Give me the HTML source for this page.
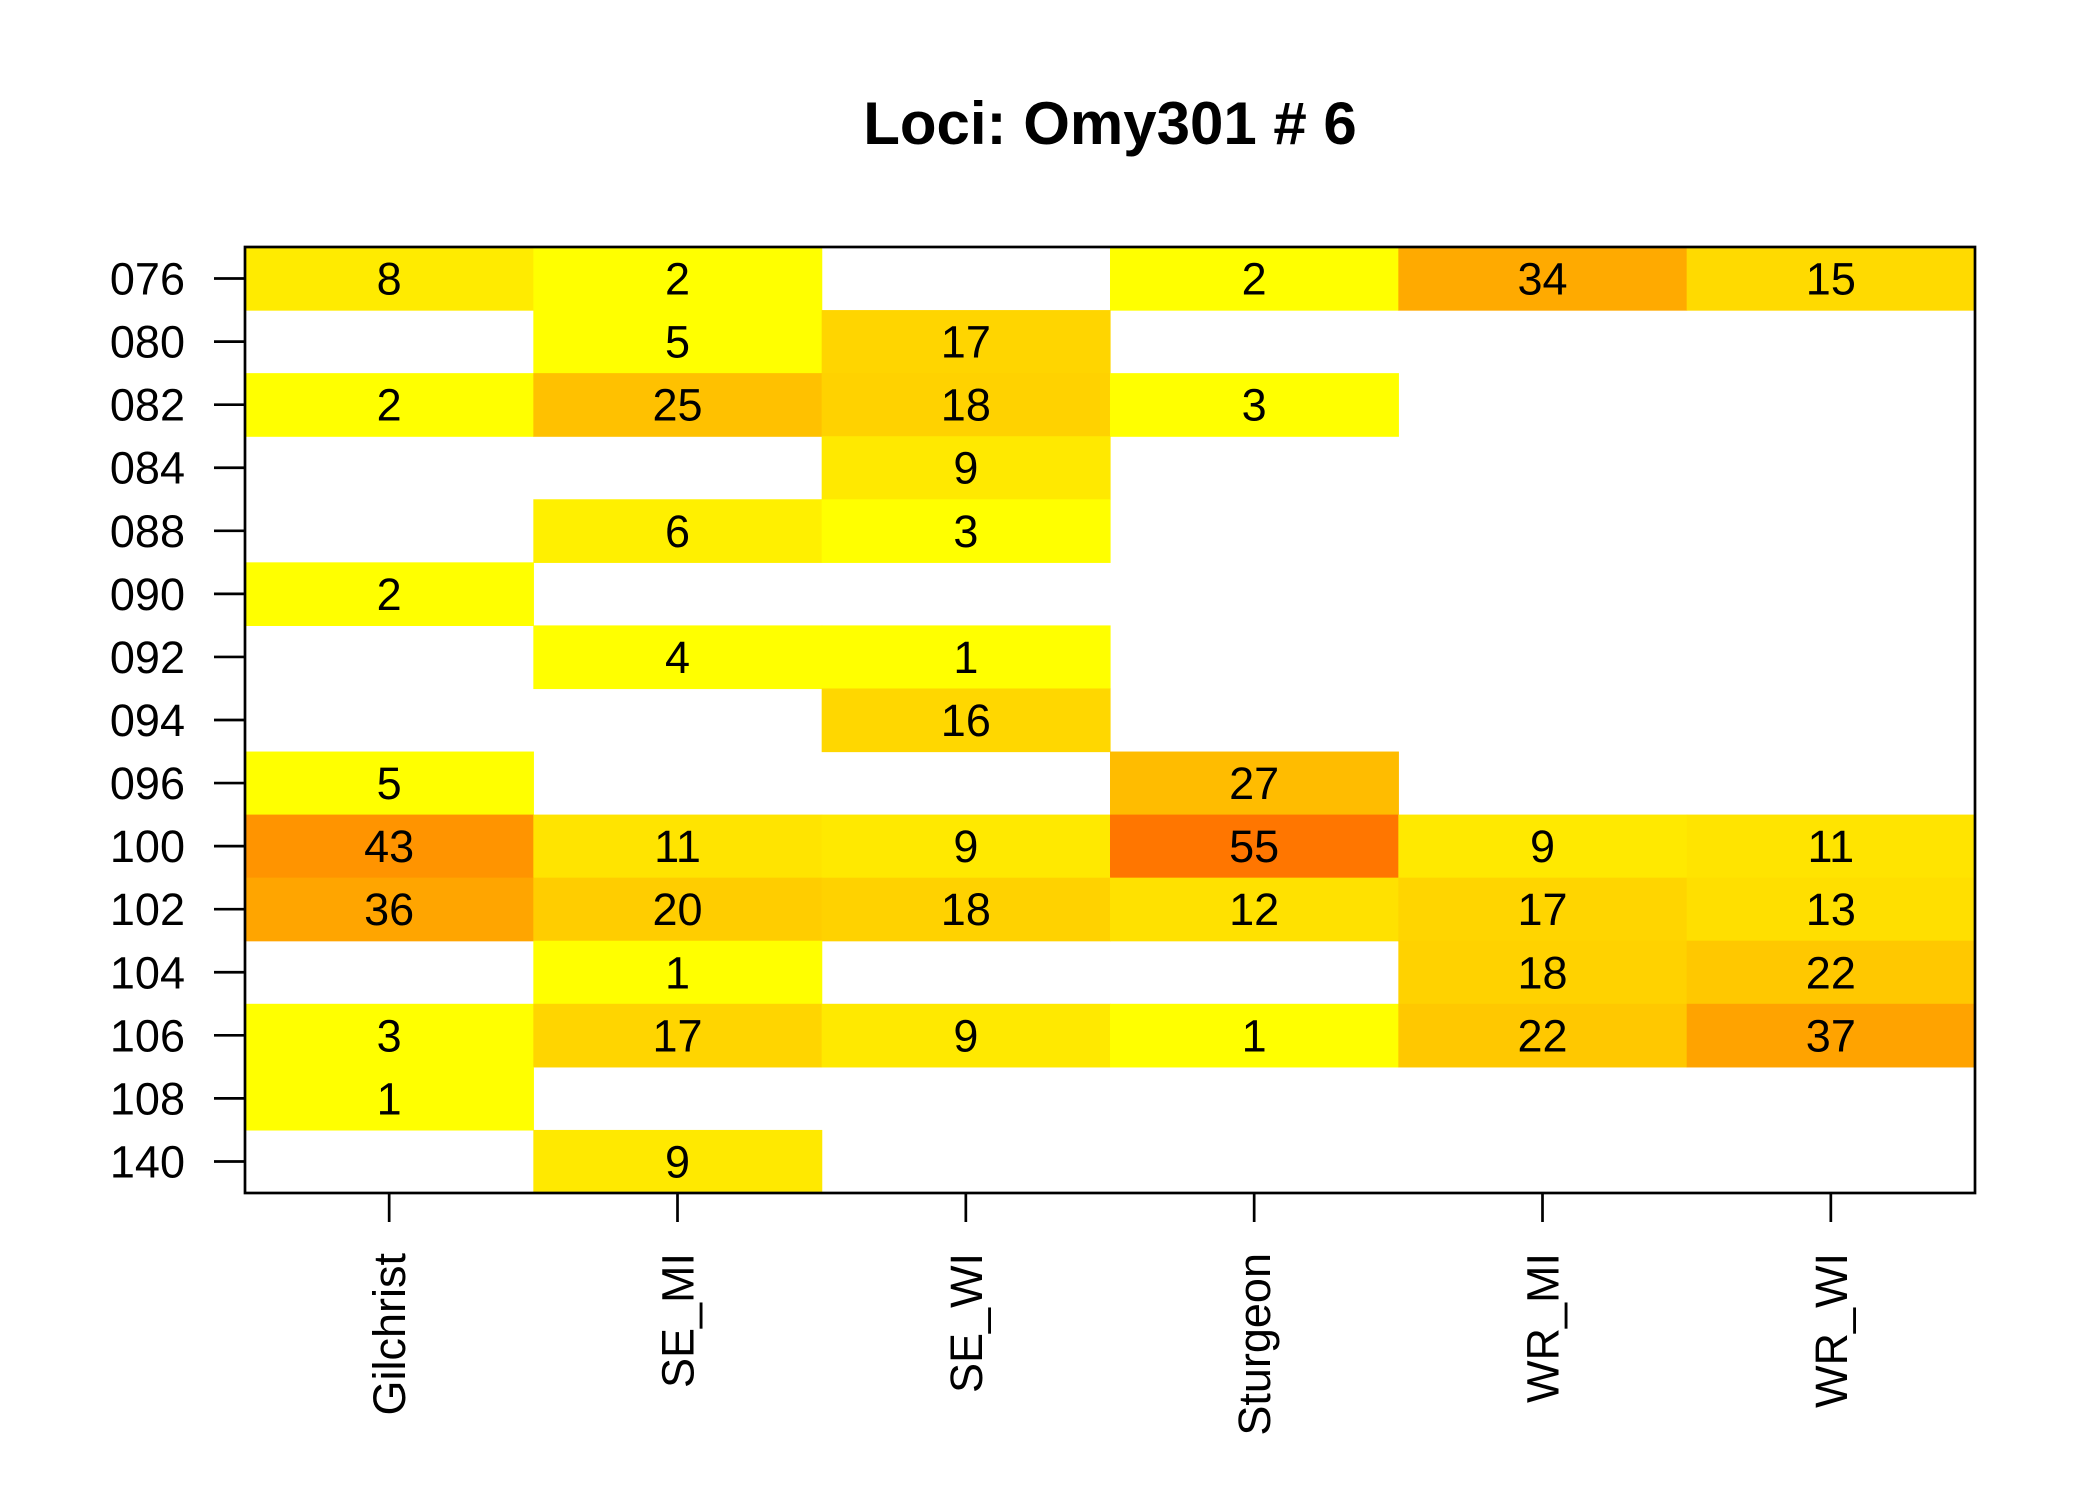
<!DOCTYPE html>
<html><head><meta charset="utf-8"><style>
body{margin:0;background:#fff;}
svg{display:block;}
text{font-family:"Liberation Sans",Arial,sans-serif;fill:#000;}
</style></head><body>
<svg id="chart" width="2100" height="1500" viewBox="0 0 2100 1500">
<text x="1110" y="144" font-size="60" font-weight="bold" text-anchor="middle">Loci: Omy301 # 6</text>
<g id="cells"></g>
<rect x="245" y="247" width="1730" height="946" fill="none" stroke="#000" stroke-width="2.7"/>
<g id="yaxis"></g>
<g id="xaxis"></g>
</svg>
<script>
const rowLabels = ["076","080","082","084","088","090","092","094","096","100","102","104","106","108","140"];
const colLabels = ["Gilchrist","SE_MI","SE_WI","Sturgeon","WR_MI","WR_WI"];
const counts = [
 [8,2,0,2,34,15],
 [0,5,17,0,0,0],
 [2,25,18,3,0,0],
 [0,0,9,0,0,0],
 [0,6,3,0,0,0],
 [2,0,0,0,0,0],
 [0,4,1,0,0,0],
 [0,0,16,0,0,0],
 [5,0,0,27,0,0],
 [43,11,9,55,9,11],
 [36,20,18,12,17,13],
 [0,1,0,0,18,22],
 [3,17,9,1,22,37],
 [1,0,0,0,0,0],
 [0,9,0,0,0,0]
];
const NS="http://www.w3.org/2000/svg";
const X0=245,X1=1975,Y0=247,Y1=1193;
const cw=(X1-X0)/colLabels.length, rh=(Y1-Y0)/rowLabels.length;
const xPos=c=>X0+c*cw, yPos=r=>Y0+r*rh;
function color(v){let g=v<=5?255:Math.round(255-2.5*v);g=Math.max(0,Math.min(255,g));return "rgb(255,"+g+",0)";}
function mk(tag,attrs,parent){const e=document.createElementNS(NS,tag);for(const k in attrs)e.setAttribute(k,attrs[k]);parent.appendChild(e);return e;}
const cells=document.getElementById('cells');
counts.forEach((row,r)=>row.forEach((v,c)=>{
 if(!v)return;
 const rect=mk('rect',{x:xPos(c),y:yPos(r),width:cw+0.6,height:rh+0.6,fill:color(v)},cells);
 
 
 const t=mk('text',{x:xPos(c)+cw/2,y:yPos(r)+rh/2+16,'font-size':45,'text-anchor':'middle'},cells);
 t.textContent=v;
 
 
}));
const ya=document.getElementById('yaxis');
rowLabels.forEach((l,r)=>{
 const y=yPos(r)+rh/2;
 const tk=mk('line',{x1:214,x2:245,y1:y,y2:y,stroke:'#000','stroke-width':2.7},ya);
 
 
 const t=mk('text',{x:185,y:y+16,'font-size':45,'text-anchor':'end'},ya);
 t.textContent=l;
 
 
});
const xa=document.getElementById('xaxis');
colLabels.forEach((l,c)=>{
 const x=xPos(c)+cw/2;
 const tk=mk('line',{x1:x,x2:x,y1:1193,y2:1222,stroke:'#000','stroke-width':2.7},xa);
 
 
 const t=mk('text',{x:x+16,y:1253,'font-size':45,'text-anchor':'end',transform:'rotate(-90 '+(x+16)+' 1253)'},xa);
 t.textContent=l;
 
 
});
</script>
</body></html>
